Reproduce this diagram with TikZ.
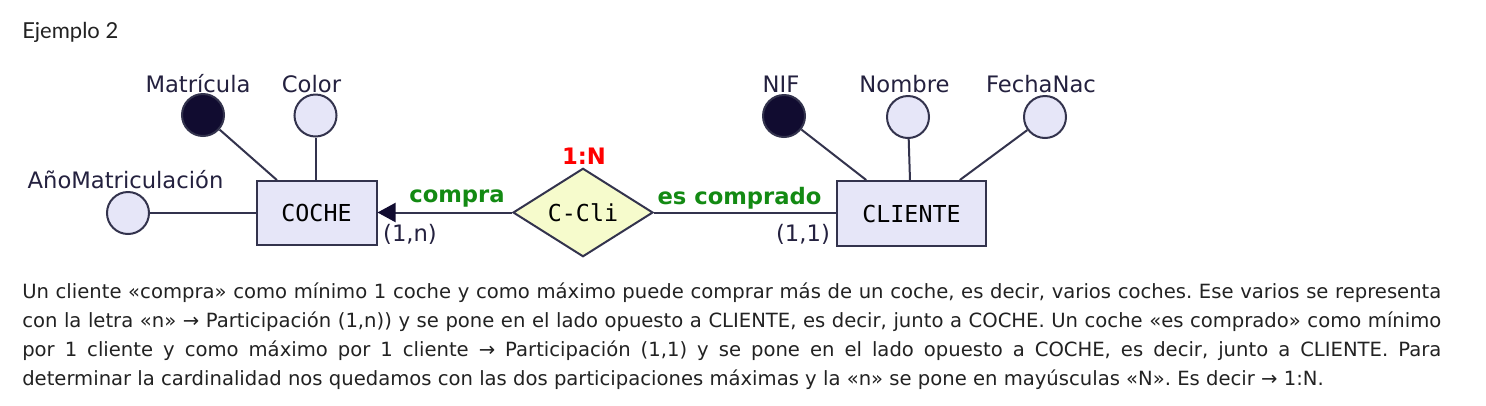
\documentclass[tikz,border=0pt]{standalone}
\usepackage{fontspec}
\setmainfont{DejaVu Sans}
\newfontfamily\monofnt{DejaVu Sans Mono}
\newfontfamily\titlefnt{Lato}
\usetikzlibrary{shapes.geometric,arrows.meta,calc}
\definecolor{edgec}{HTML}{33334D}
\definecolor{lavfill}{HTML}{E6E6F8}
\definecolor{keyfill}{HTML}{110C30}
\definecolor{relfill}{HTML}{F6FBCC}
\definecolor{greenc}{HTML}{138A13}
\definecolor{labc}{HTML}{24213F}
\definecolor{bodyc}{HTML}{222222}
\tikzset{
  attr/.style={circle, draw=edgec, fill=lavfill, line width=1.5pt, minimum size=31.5pt, inner sep=0pt},
  keyattr/.style={attr, fill=keyfill},
  entity/.style={rectangle, draw=edgec, fill=lavfill, line width=1.5pt, inner sep=0pt, font=\monofnt\fontsize{17.5}{20}\selectfont, text=black},
  relation/.style={diamond, draw=edgec, fill=relfill, line width=1.5pt, inner sep=0pt, minimum width=105pt, minimum height=63.75pt, font=\monofnt\fontsize{17.5}{20}\selectfont, text=black},
  attrlab/.style={anchor=base, inner sep=0pt, font=\fontsize{17}{20}\selectfont, text=labc},
  rolelab/.style={anchor=base, inner sep=0pt, font=\bfseries\fontsize{17}{20}\selectfont, text=greenc},
  cardlab/.style={anchor=base, inner sep=0pt, font=\fontsize{17}{20}\selectfont, text=labc},
  conn/.style={draw=edgec, line width=1.5pt},
}
\begin{document}
\begin{tikzpicture}[x=0.75pt, y=-0.75pt]
\useasboundingbox[fill=white] (0,0) rectangle (1486,405);
% title
\node[anchor=base west, inner sep=0pt, font=\titlefnt\fontsize{16.5}{20}\selectfont, text=bodyc] (title) at (22,38) {Ejemplo 2};
% entities
\node[entity, minimum width=90pt, minimum height=48pt] (coche) at (316.5,213) {COCHE};
\node[entity, minimum width=111.75pt, minimum height=48.75pt] (cli) at (911.5,213.5) {CLIENTE};
\node[relation] (rel) at (583,212.5) {C-Cli};
% attributes
\node[keyattr] (mat) at (203,115) {};
\node[attr] (col) at (315.5,115.5) {};
\node[attr] (ano) at (128,213) {};
\node[keyattr] (nif) at (784,116) {};
\node[attr] (nom) at (908,117) {};
\node[attr] (fec) at (1045,117) {};
% attribute labels
\node[attrlab] (matl) at (198,92) {Matrícula};
\node[attrlab] (coll) at (311.5,92) {Color};
\node[attrlab] (anol) at (125.5,188) {AñoMatriculación};
\node[attrlab] (nifl) at (781,92) {NIF};
\node[attrlab] (noml) at (904.5,92) {Nombre};
\node[attrlab] (fecl) at (1041,92) {FechaNac};
% connectors
\draw[conn] (mat) -- ($(coche.north west)!0.175!(coche.north east)$);
\draw[conn] (col) -- (col |- coche.north);
\draw[conn] (ano) -- (coche.west);
\draw[conn] (nif) -- ($(cli.north west)!0.2!(cli.north east)$);
\draw[conn] (nom) -- ($(cli.north west)!0.49!(cli.north east)$);
\draw[conn] (fec) -- ($(cli.north west)!0.82!(cli.north east)$);
\draw[conn, -{Triangle[length=13.5pt, width=14.25pt, color=keyfill, fill=keyfill]}] (rel.west) -- (rel.west -| coche.east);
\draw[conn] (rel.east) -- (rel.east -| cli.west);
% relation labels
\node[rolelab] (compra) at (457,202) {compra};
\node[rolelab] (escomp) at (739.5,204) {es comprado};
\node[rolelab, text=red] (card) at (584,164) {1:N};
\node[cardlab] (p1) at (410,241) {(1,n)};
\node[cardlab] (p2) at (803,241) {(1,1)};
% body text
\node[anchor=north west, inner sep=0pt, text width=1064.25pt, align=justify, text=bodyc,
      font=\fontsize{14.7}{21.75}\selectfont] (body) at (22,283)
{\hyphenpenalty=10000\frenchspacing Un cliente «compra» como mínimo 1 coche y como máximo puede comprar más de un coche, es decir, varios coches. Ese varios se representa\linebreak
con la letra «n» → Participación (1,n)) y se pone en el lado opuesto a CLIENTE, es decir, junto a COCHE. Un coche «es comprado» como mínimo\linebreak
por 1 cliente y como máximo por 1 cliente → Participación (1,1) y se pone en el lado opuesto a COCHE, es decir, junto a CLIENTE. Para\linebreak
determinar la cardinalidad nos quedamos con las dos participaciones máximas y la «n» se pone en mayúsculas «N». Es decir → 1:N.};
\end{tikzpicture}
\end{document}
